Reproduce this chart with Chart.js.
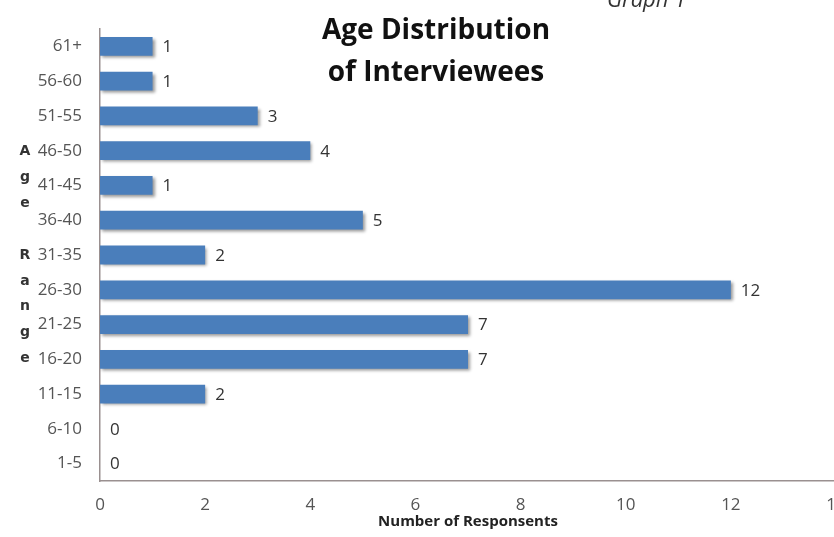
<!DOCTYPE html>
<html>
<head>
<meta charset="utf-8">
<script src="https://cdn.jsdelivr.net/npm/chart.js@4"></script>
<style>
html, body { margin: 0; padding: 0; background: #fff; overflow: hidden; }
#wrap { width: 870px; height: 537px; }
</style>
</head>
<body>
<div id="wrap"><canvas id="ageChart" width="870" height="537"></canvas></div>
<script>
// age groups, top of the chart first
const ageGroups = ['61+', '56-60', '51-55', '46-50', '41-45', '36-40', '31-35', '26-30', '21-25', '16-20', '11-15', '6-10', '1-5'];
const responses = [1, 1, 3, 4, 1, 5, 2, 12, 7, 7, 2, 0, 0];
const xMin = 0;
const xMax = 14;
const xStep = 2;

const titleLines = ['Age Distribution', 'of Interviewees'];
const yTitle = 'Age Range';
const xTitle = 'Number of Responsents';
const graphNote = 'Graph 1';

const barShadow = {
    id: 'barShadow',
    beforeDatasetsDraw(chart) {
        const ctx = chart.ctx;
        ctx.save();
        ctx.shadowColor = 'rgba(0, 0, 0, 0.4)';
        ctx.shadowOffsetX = 2;
        ctx.shadowOffsetY = 2;
        ctx.shadowBlur = 3;
    },
    afterDatasetsDraw(chart) {
        chart.ctx.restore();
    }
};

const valueLabels = {
    id: 'valueLabels',
    afterDatasetsDraw(chart) {
        const ctx = chart.ctx;
        const meta = chart.getDatasetMeta(0);
        ctx.save();
        ctx.font = '17px "Open Sans"';
        ctx.fillStyle = '#333';
        ctx.textAlign = 'left';
        ctx.textBaseline = 'middle';
        meta.data.forEach((bar, i) => {
            ctx.fillText(String(responses[i]), bar.x + 10, bar.y + 1);
        });
        ctx.restore();
    }
};

const extraText = {
    id: 'extraText',
    afterDraw(chart) {
        const ctx = chart.ctx;
        const area = chart.chartArea;
        ctx.save();
        // chart title, sits inside the plot
        ctx.font = 'bold 28px "Open Sans"';
        ctx.fillStyle = '#111';
        ctx.textAlign = 'center';
        ctx.textBaseline = 'middle';
        titleLines.forEach((line, i) => {
            ctx.fillText(line, 436, 31 + i * 42);
        });
        // note cut off at the top
        ctx.font = 'italic 22px "Open Sans"';
        ctx.fillStyle = '#333';
        ctx.textAlign = 'left';
        ctx.textBaseline = 'alphabetic';
        ctx.fillText(graphNote, 607, 7);
        // stacked axis title
        ctx.font = 'bold 14px "DejaVu Sans"';
        ctx.fillStyle = '#333';
        ctx.textAlign = 'center';
        ctx.textBaseline = 'middle';
        const mid = (area.top + area.bottom) / 2;
        const step = 25.9;
        const letters = yTitle.split('');
        letters.forEach((ch, i) => {
            ctx.fillText(ch, 25, mid + (i - (letters.length - 1) / 2) * step);
        });
        ctx.restore();
    }
};

const ctx = document.getElementById('ageChart');

const ageChart = new Chart(ctx, {
    type: 'bar',
    data: {
        labels: ageGroups,
        datasets: [{
            data: responses,
            backgroundColor: '#4a7ebb',
            borderWidth: 0,
            barPercentage: 0.54,
            categoryPercentage: 1
        }]
    },
    options: {
        indexAxis: 'y',
        responsive: false,
        animation: false,
        layout: {
            padding: { top: 29, right: 34, bottom: 0, left: 0 }
        },
        plugins: {
            legend: { display: false },
            tooltip: { enabled: false }
        },
        scales: {
            x: {
                min: xMin,
                max: xMax,
                ticks: {
                    stepSize: xStep,
                    padding: 14,
                    color: '#555',
                    font: { family: 'Open Sans', size: 17 }
                },
                grid: { display: false, drawTicks: false },
                border: { display: true, color: '#9a9090', width: 1.5 },
                title: {
                    display: true,
                    text: xTitle,
                    color: '#222',
                    font: { family: 'Open Sans', size: 15, weight: 'bold' },
                    padding: { top: 0, bottom: 6 }
                },
                afterFit(scale) {
                    scale.height = 56;
                }
            },
            y: {
                ticks: {
                    padding: 18,
                    color: '#555',
                    font: { family: 'Open Sans', size: 17 }
                },
                grid: { display: false, drawTicks: false },
                border: { display: true, color: '#9a9090', width: 1.5 },
                afterFit(scale) {
                    scale.width = 100;
                }
            }
        }
    },
    plugins: [barShadow, valueLabels, extraText]
});
</script>
</body>
</html>
